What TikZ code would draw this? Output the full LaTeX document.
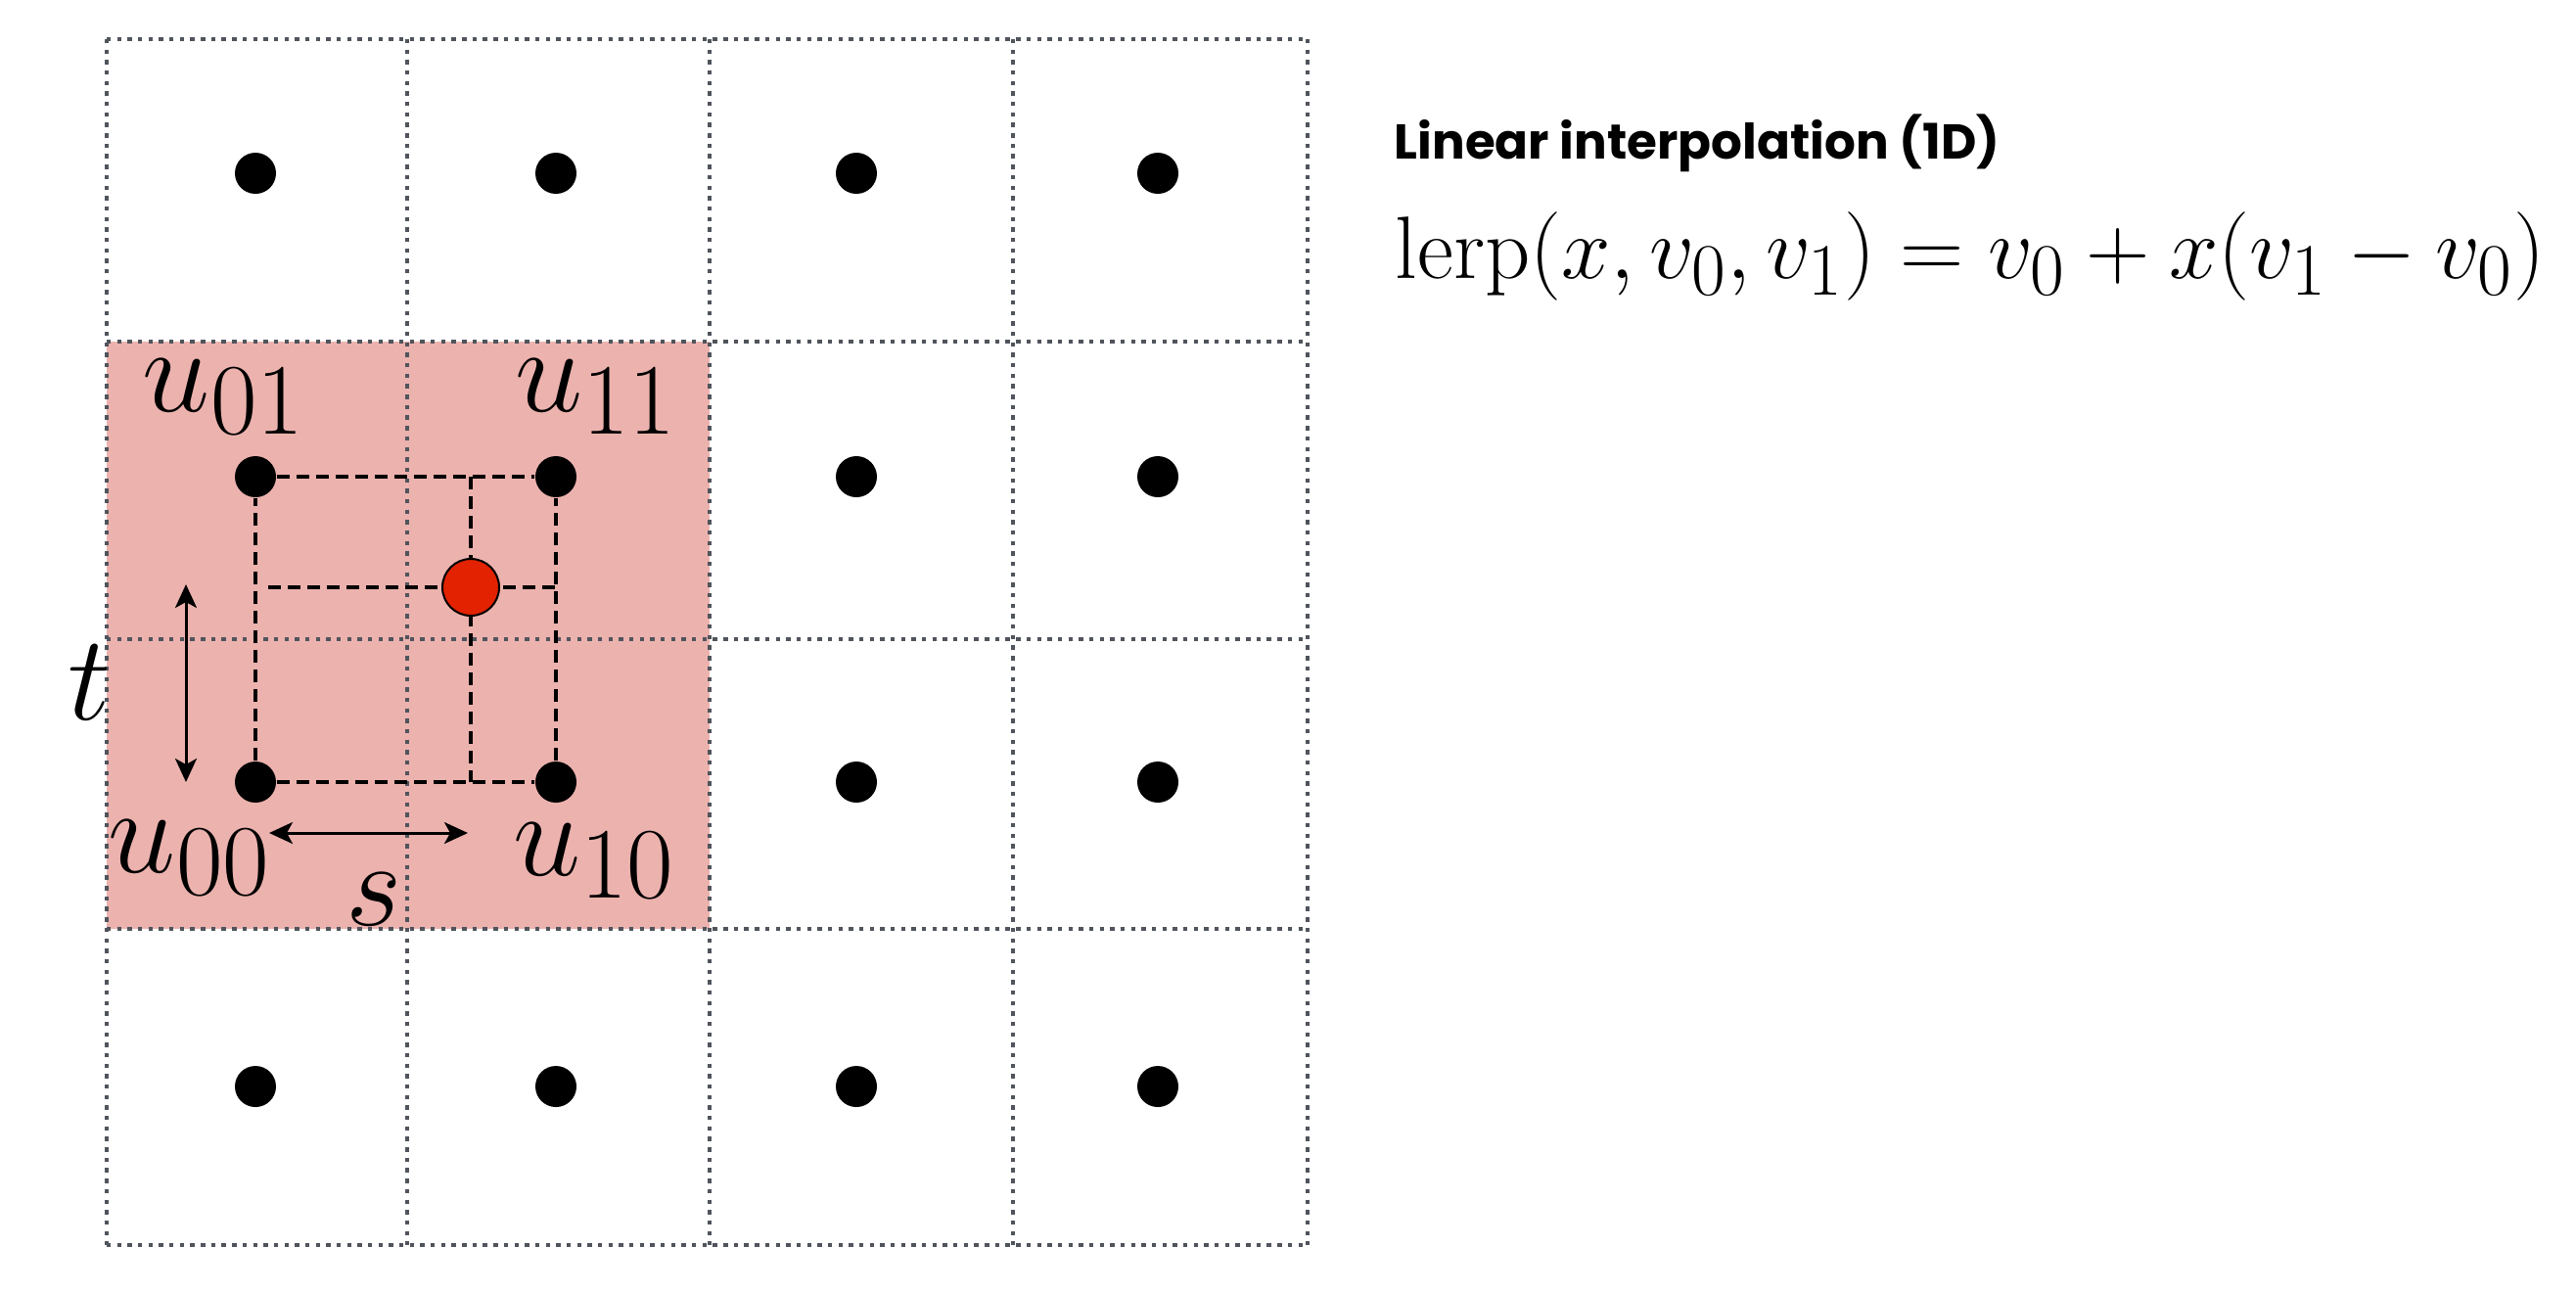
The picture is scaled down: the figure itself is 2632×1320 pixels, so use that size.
\documentclass[tikz,border=0pt]{standalone}
\usepackage{fontspec}
\newfontfamily\titlefont{Poppins}
\usetikzlibrary{arrows.meta}

\definecolor{gridgray}{RGB}{80,84,92}
\definecolor{cellpink}{RGB}{236,178,174}
\definecolor{sampred}{RGB}{226,34,0}

\tikzset{
    gridline/.style={gridgray,line width=1.1pt,dash pattern=on 1.1pt off 1.57pt},
    dot/.style={circle,fill=black,inner sep=0pt,minimum size=10.5pt},
    sample/.style={circle,draw=black,line width=0.5pt,fill=sampred,inner sep=0pt,minimum size=14.5pt},
    guide/.style={black,line width=0.9pt,dash pattern=on 3.25pt off 1.75pt},
    span/.style={black,line width=0.75pt,{Stealth[length=6pt,width=5.5pt,inset=1.5pt]}-{Stealth[length=6pt,width=5.5pt,inset=1.5pt]}},
    lbl/.style={anchor=base west,inner sep=0pt,font=\Huge,scale=1.246}
}

\begin{document}
\begin{tikzpicture}[x=0.25pt,y=-0.25pt]

\def\CELLCOLOR{cellpink}
	\useasboundingbox (0,0) rectangle (2632,1320);
	\fill[\CELLCOLOR] (109,349) rectangle (725,949);

	% grid
	\draw[gridline] (109,40) -- (1336,40);
	\draw[gridline] (109,349) -- (1336,349);
	\draw[gridline] (109,653) -- (1336,653);
	\draw[gridline] (109,949) -- (1336,949);
	\draw[gridline] (109,1272) -- (1336,1272);
	\draw[gridline] (109,40) -- (109,1272);
	\draw[gridline] (416,40) -- (416,1272);
	\draw[gridline] (725,40) -- (725,1272);
	\draw[gridline] (1035,40) -- (1035,1272);
	\draw[gridline] (1336,40) -- (1336,1272);

	% samples
	\node[dot] (d00) at (261,177) {};
	\node[dot] (d10) at (568,177) {};
	\node[dot] (d20) at (875,177) {};
	\node[dot] (d30) at (1183,177) {};
	\node[dot] (u01) at (261,487) {};
	\node[dot] (u11) at (568,487) {};
	\node[dot] (d21) at (875,487) {};
	\node[dot] (d31) at (1183,487) {};
	\node[dot] (u00) at (261,799) {};
	\node[dot] (u10) at (568,799) {};
	\node[dot] (d22) at (875,799) {};
	\node[dot] (d32) at (1183,799) {};
	\node[dot] (d03) at (261,1110) {};
	\node[dot] (d13) at (568,1110) {};
	\node[dot] (d23) at (875,1110) {};
	\node[dot] (d33) at (1183,1110) {};

	\coordinate (p) at (481,600);
	\coordinate (pl) at (274,600);
	\draw[guide] (u00) -- (u10);
	\draw[guide] (u01) -- (u11);
	\draw[guide] (u00) -- (u01);
	\draw[guide] (u10) -- (u11);
	\draw[guide] (p |- u11) -- (p |- u00);
	\draw[guide] (pl) -- (u10 |- p);
	\node[sample] (pt) at (p) {};

	% weights
	\coordinate (ttop) at (190,597);
	\coordinate (tbot) at (190,799);
	\coordinate (sleft) at (275,851);
	\coordinate (sright) at (478,851);
	\draw[span] (ttop) -- (tbot);
	\draw[span] (sleft) -- (sright);

	\node[lbl] (lu01) at (145,420) {$u_{01}$};
	\node[lbl] (lu11) at (525,420) {$u_{11}$};
	\node[lbl] (lu00) at (110,891) {$u_{00}$};
	\node[lbl] (lu10) at (523,894) {$u_{10}$};
	\node[lbl] (lt) at (69,735) {$t$};
	\node[lbl] (ls) at (352,945) {$s$};

	\node[anchor=base west,inner sep=0pt,font=\titlefont\bfseries\fontsize{12.5}{15}\selectfont] (title) at (1424,162) {Linear interpolation (1D)};
	\node[anchor=base west,inner sep=0pt,font=\Huge,scale=0.91] (eq) at (1425,284) {$\mathrm{lerp}(x,v_0,v_1)=v_0+x(v_1-v_0)$};

\end{tikzpicture}
\end{document}
